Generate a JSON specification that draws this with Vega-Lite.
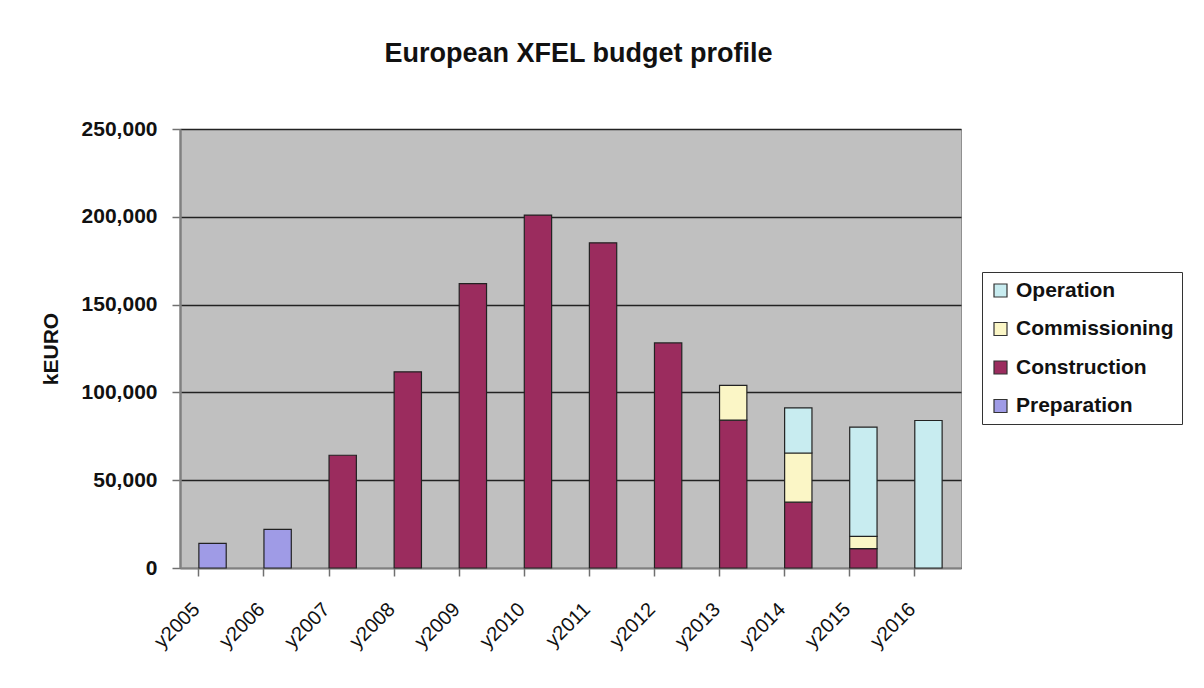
{
  "$schema": "https://vega.github.io/schema/vega-lite/v6.json",
  "autosize": {"type": "none"},
  "width": 781,
  "height": 439,
  "padding": {"left": 180, "top": 129, "right": 243, "bottom": 120},
  "background": "white",
  "title": {"text": "European XFEL budget profile", "font": "Liberation Sans", "fontSize": 27, "fontWeight": "bold", "color": "#111111", "offset": 50, "anchor": "middle", "dx": 8},
  "data": {"values": [
    {"year": "y2005", "phase": "Preparation", "kEURO": 14000},
    {"year": "y2006", "phase": "Preparation", "kEURO": 22000},
    {"year": "y2007", "phase": "Construction", "kEURO": 64200},
    {"year": "y2008", "phase": "Construction", "kEURO": 111700},
    {"year": "y2009", "phase": "Construction", "kEURO": 162000},
    {"year": "y2010", "phase": "Construction", "kEURO": 201000},
    {"year": "y2011", "phase": "Construction", "kEURO": 185200},
    {"year": "y2012", "phase": "Construction", "kEURO": 128200},
    {"year": "y2013", "phase": "Construction", "kEURO": 84200},
    {"year": "y2013", "phase": "Commissioning", "kEURO": 19800},
    {"year": "y2014", "phase": "Construction", "kEURO": 37500},
    {"year": "y2014", "phase": "Commissioning", "kEURO": 28000},
    {"year": "y2014", "phase": "Operation", "kEURO": 25700},
    {"year": "y2015", "phase": "Construction", "kEURO": 11000},
    {"year": "y2015", "phase": "Commissioning", "kEURO": 7000},
    {"year": "y2015", "phase": "Operation", "kEURO": 62200},
    {"year": "y2016", "phase": "Operation", "kEURO": 84000}
  ]},
  "transform": [
    {"calculate": "indexof(['Preparation','Construction','Commissioning','Operation'], datum.phase)", "as": "stackOrder"}
  ],
  "mark": {"type": "bar", "stroke": "#222222", "strokeWidth": 1.2},
  "encoding": {
    "x": {
      "field": "year", "type": "nominal",
      "scale": {"paddingInner": 0.58, "paddingOuter": 0.29},
      "axis": {"title": null, "labelAngle": -45, "labelAlign": "right", "labelBaseline": "middle", "bandPosition": 0, "labelOffset": -16, "labelFont": "Liberation Sans", "labelFontSize": 20, "labelColor": "#111111", "labelPadding": 30, "tickColor": "#707070", "tickSize": 8, "tickWidth": 1.5, "domainColor": "#808080", "domainWidth": 1.5, "grid": false}
    },
    "y": {
      "field": "kEURO", "type": "quantitative", "stack": "zero",
      "scale": {"domain": [0, 250000]},
      "axis": {"title": "kEURO", "values": [0, 50000, 100000, 150000, 200000, 250000], "format": ",d", "labelFont": "Liberation Sans", "labelFontSize": 21, "labelFontWeight": "bold", "labelColor": "#111111", "labelPadding": 15, "titleFont": "Liberation Sans", "titleFontSize": 21, "titleFontWeight": "bold", "titleColor": "#111111", "titlePadding": 20, "tickColor": "#707070", "tickSize": 8, "tickWidth": 1.5, "domainColor": "#808080", "domainWidth": 2.5, "gridColor": "#222222", "gridWidth": 1.3}
    },
    "color": {
      "field": "phase", "type": "nominal",
      "scale": {"domain": ["Operation", "Commissioning", "Construction", "Preparation"], "range": ["#c8ecf0", "#fbf6c6", "#9b2c5e", "#9f9be6"]},
      "legend": {"title": null, "orient": "none", "legendX": 802, "legendY": 143, "symbolType": "square", "symbolSize": 169, "symbolStrokeColor": "#333333", "symbolStrokeWidth": 1.2, "labelFont": "Liberation Sans", "labelFontSize": 21, "labelFontWeight": "bold", "labelColor": "#111111", "labelOffset": 5, "rowPadding": 16.5, "padding": 8, "strokeColor": "#333333", "fillColor": "white", "labelLimit": 300}
    },
    "order": {"field": "stackOrder", "type": "quantitative"}
  },
  "config": {
    "view": {"fill": "#c0c0c0", "stroke": "#909090"}
  }
}
